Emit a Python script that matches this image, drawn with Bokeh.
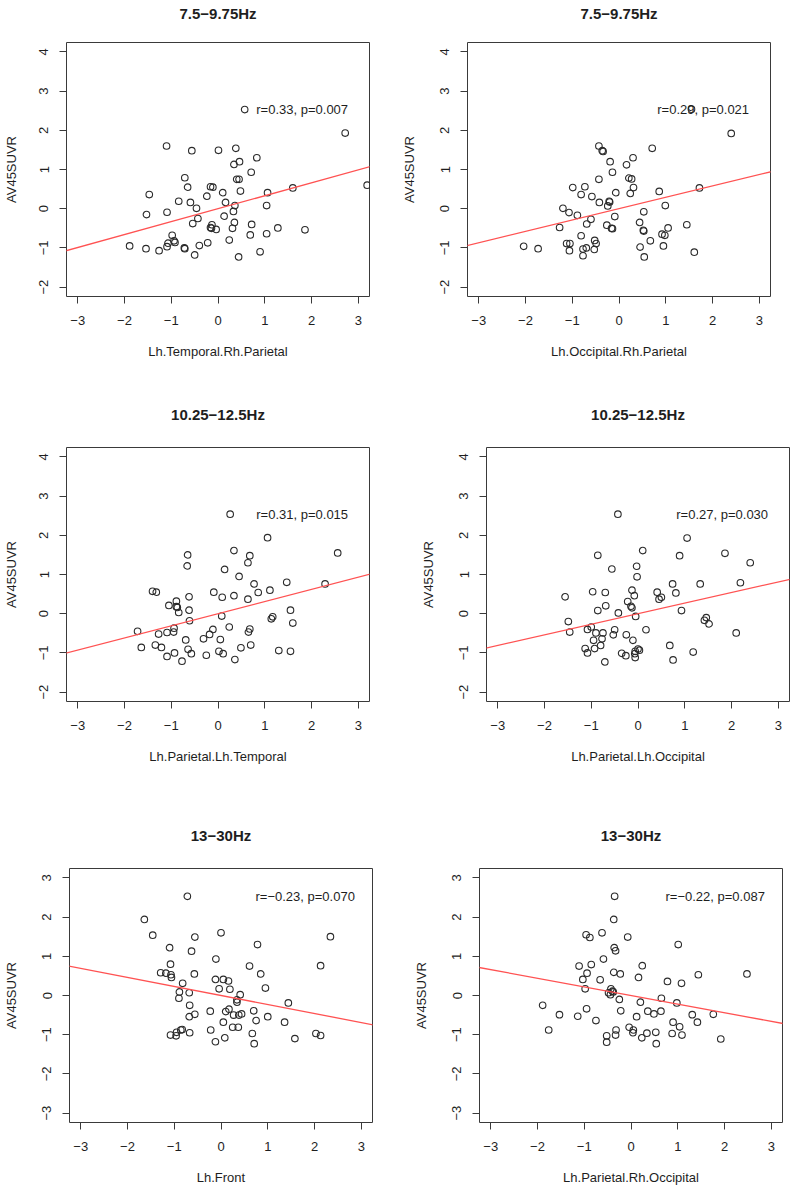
from bokeh.plotting import figure
from bokeh.layouts import column, row
from bokeh.models import Range1d, FixedTicker, Slope, Label, LinearAxis
from bokeh.embed import file_html
from bokeh.resources import INLINE

# ---------------- data ----------------
titles = ["7.5\u22129.75Hz", "7.5\u22129.75Hz", "10.25\u221212.5Hz",
          "10.25\u221212.5Hz", "13\u221230Hz", "13\u221230Hz"]
x_labels = ["Lh.Temporal.Rh.Parietal", "Lh.Occipital.Rh.Parietal",
            "Lh.Parietal.Lh.Temporal", "Lh.Parietal.Lh.Occipital",
            "Lh.Front", "Lh.Parietal.Rh.Occipital"]
y_label = "AV45SUVR"
r_values = [0.33, 0.29, 0.31, 0.27, -0.23, -0.22]
stat_texts = ["r=0.33, p=0.007", "r=0.29, p=0.021", "r=0.31, p=0.015",
              "r=0.27, p=0.030", "r=\u22120.23, p=0.070", "r=\u22120.22, p=0.087"]
x_ticks = [-3, -2, -1, 0, 1, 2, 3]
y_ticks_top = [-2, -1, 0, 1, 2, 3, 4]
y_ticks_bottom = [-3, -2, -1, 0, 1, 2, 3]

x1 = [0.57, 2.72, -1.10, -0.56, 0.01, 0.38, 0.83, 0.46, 0.34, 0.71, -0.71, 0.40, 0.45,
      -0.65, -0.16, -0.11, 1.60, 3.19, -1.47, 0.48, 0.10, 1.06, -0.24, -0.84, -0.59,
      0.16, 1.04, 0.36, -0.46, -1.53, -1.09, 0.33, 0.13, -0.43, -0.54, 0.35, 0.72,
      -0.13, -0.16, -0.14, -0.04, 0.31, 1.28, 1.86, 0.69, 1.04, -0.98, 0.24, -0.94,
      -1.07, -0.92, -0.22, -1.89, -1.09, -0.40, -1.54, -0.72, -0.71, -1.26, 0.90,
      -0.50, 0.44]
y1 = [2.53, 1.93, 1.60, 1.48, 1.49, 1.54, 1.30, 1.20, 1.13, 0.93, 0.79, 0.75, 0.75,
      0.55, 0.56, 0.55, 0.53, 0.60, 0.36, 0.45, 0.41, 0.41, 0.32, 0.19, 0.16,
      0.16, 0.08, 0.08, 0.01, -0.15, -0.09, -0.07, -0.19, -0.25, -0.38, -0.35, -0.40,
      -0.41, -0.48, -0.50, -0.53, -0.50, -0.49, -0.54, -0.67, -0.64, -0.68, -0.80, -0.82,
      -0.88, -0.86, -0.87, -0.95, -0.97, -0.94, -1.02, -1.00, -1.02, -1.07, -1.10,
      -1.18, -1.23]

x2 = [1.55, 2.40, -0.43, -0.36, -0.34, 0.71, 0.30, -0.19, 0.16, -0.14, 0.21, 0.27,
      -0.43, -0.99, -0.73, 0.31, 1.72, 0.86, -0.81, -0.58, -0.07, 0.24, -0.42, -0.21,
      -0.20, -0.24, 0.99, -1.20, -1.07, 0.53, -0.89, -0.09, -0.60, -0.69, -0.26, 0.44,
      1.45, -1.27, -0.16, -0.14, 0.52, 0.53, 1.05, 0.92, 0.98, -0.81, 0.67, -0.52,
      -1.12, -1.05, -0.49, -2.04, 0.95, 0.45, -1.73, -0.70, -0.77, -0.53, -1.06, 1.61,
      -0.77, 0.54]
y2 = [2.54, 1.92, 1.60, 1.48, 1.46, 1.54, 1.30, 1.20, 1.12, 0.93, 0.78, 0.76,
      0.75, 0.54, 0.56, 0.54, 0.53, 0.44, 0.36, 0.31, 0.41, 0.39, 0.16, 0.19,
      0.17, 0.07, 0.08, 0.01, -0.10, -0.08, -0.17, -0.20, -0.27, -0.39, -0.42, -0.35,
      -0.41, -0.48, -0.50, -0.51, -0.55, -0.57, -0.49, -0.65, -0.68, -0.69, -0.82, -0.81,
      -0.89, -0.89, -0.89, -0.96, -0.95, -0.98, -1.02, -1.00, -1.03, -1.04, -1.07, -1.11,
      -1.20, -1.23]

x3 = [0.26, 1.06, 2.56, 0.34, -0.65, 0.68, -0.66, 0.64, 0.14, 0.45, 0.77, 1.47, 2.29,
      -1.40, -1.32, -0.09, 0.86, 1.11, -0.62, 0.09, 0.34, 0.64, -1.05, -0.89, -0.89,
      -0.87, -0.84, -0.62, 1.55, 0.08, 1.14, 1.17, 1.60, -0.61, 0.24, -1.72, -0.94,
      -0.95, -1.09, -0.11, 0.68, 0.65, -1.27, -0.18, -0.69, -0.31, 0.05, -1.34, 0.70,
      -1.64, -1.21, -0.64, 0.49, 1.30, 1.55, -0.93, 0.02, -0.57, 0.11, -0.25, -1.09,
      0.36, -0.77]
y3 = [2.54, 1.94, 1.55, 1.61, 1.50, 1.48, 1.22, 1.30, 1.13, 0.95, 0.76, 0.80, 0.76,
      0.57, 0.55, 0.55, 0.54, 0.60, 0.43, 0.42, 0.46, 0.37, 0.21, 0.32, 0.18,
      0.16, 0.03, 0.09, 0.09, -0.06, -0.13, -0.08, -0.24, -0.18, -0.34, -0.45, -0.37,
      -0.47, -0.48, -0.40, -0.39, -0.47, -0.52, -0.53, -0.67, -0.64, -0.66, -0.80, -0.80,
      -0.86, -0.86, -0.91, -0.87, -0.94, -0.96, -1.00, -0.96, -1.02, -1.02, -1.06, -1.09,
      -1.17, -1.21]

x4 = [-0.43, 1.05, 0.10, -0.86, 0.89, 1.86, 2.40, -0.56, -0.03, -0.02, 0.74, 1.33, 2.19,
      -1.56, -0.97, -0.70, -0.13, -0.08, 0.41, 0.81, 0.45, 0.50, -0.22, -0.69, -0.15,
      -0.13, -0.86, -0.42, 0.93, -0.05, -1.49, 1.46, 1.42, 1.52, -1.00, -1.08, -1.46,
      -0.90, -0.75, -0.50, 0.17, 2.10, -0.53, -0.25, -0.77, -0.95, -0.11, -0.80, 0.68,
      -1.13, -0.93, 0.00, 0.03, -0.06, 1.18, -1.08, -0.35, -0.07, -0.26, -0.06, -0.71,
      0.75]
y4 = [2.54, 1.93, 1.61, 1.49, 1.48, 1.54, 1.30, 1.14, 1.21, 0.94, 0.76, 0.76, 0.79,
      0.43, 0.56, 0.54, 0.60, 0.46, 0.55, 0.53, 0.37, 0.42, 0.31, 0.20, 0.19,
      0.15, 0.08, 0.02, 0.08, -0.07, -0.20, -0.10, -0.17, -0.26, -0.34, -0.40, -0.47,
      -0.49, -0.49, -0.41, -0.41, -0.49, -0.54, -0.54, -0.64, -0.68, -0.68, -0.81, -0.81,
      -0.89, -0.89, -0.90, -0.93, -0.96, -0.98, -1.00, -1.01, -1.02, -1.07, -1.12, -1.23,
      -1.18]

x5 = [-0.72, -1.64, -1.46, -0.56, 0.00, 2.34, 0.78, -1.10, -0.63, -0.11, -1.08, 0.61,
      2.13, -1.29, -1.18, -1.07, -1.06, -0.57, 0.85, -0.12, 0.05, 0.16, -0.82, -0.04,
      0.19, 0.95, -0.89, -0.68, 0.41, -0.90, 0.34, 0.34, 1.44, -0.67, -0.23, 0.10, 0.17,
      0.70, -0.56, -0.68, 0.27, 0.38, 0.44, 1.00, 0.05, 0.75, 1.36, 0.25, 0.37, -0.22,
      -0.83, -0.86, -0.95, -0.67, 0.67, -1.08, -0.96, 2.03, 2.13, 0.08, 1.58, -0.12,
      0.71]
y5 = [2.53, 1.94, 1.54, 1.49, 1.60, 1.50, 1.30, 1.22, 1.13, 0.93, 0.80, 0.75,
      0.76, 0.58, 0.57, 0.53, 0.46, 0.55, 0.55, 0.41, 0.41, 0.37, 0.31, 0.17,
      0.16, 0.19, 0.09, 0.07, 0.02, -0.07, -0.11, -0.17, -0.19, -0.25, -0.40, -0.41, -0.35,
      -0.39, -0.48, -0.54, -0.50, -0.50, -0.47, -0.54, -0.68, -0.64, -0.68, -0.81, -0.81, -0.88,
      -0.87, -0.88, -0.94, -0.95, -0.97, -1.01, -1.03, -0.97, -1.02, -1.08, -1.10, -1.18,
      -1.23]

x6 = [-0.35, -0.37, -0.96, -0.88, -0.62, -0.07, 1.01, -0.36, -0.33, -0.59, -1.11, -0.85,
      0.24, -0.94, -0.37, -0.23, 1.44, 2.48, -1.03, -0.66, 0.16, 0.78, 1.08, -0.98,
      -0.43, -0.40, -0.48, -0.44, -0.38, -0.25, 0.65, 0.20, 0.98, -1.89, -0.95, -0.22,
      0.36, 0.49, 0.64, -1.53, -1.14, 0.12, 1.31, 1.76, -0.75, 0.90, 1.42, -1.76, -0.32,
      -0.04, 0.05, 0.04, 1.04, 0.53, 0.34, 0.88, -0.52, -0.33, 1.09, 0.23, 1.92, -0.52,
      0.54]
y6 = [2.53, 1.94, 1.55, 1.48, 1.60, 1.49, 1.30, 1.22, 1.14, 0.93, 0.75, 0.79,
      0.76, 0.57, 0.59, 0.55, 0.53, 0.55, 0.41, 0.40, 0.46, 0.36, 0.31, 0.17,
      0.17, 0.11, 0.07, 0.02, 0.09, -0.10, -0.07, -0.17, -0.19, -0.25, -0.34, -0.39,
      -0.40, -0.47, -0.40, -0.49, -0.53, -0.54, -0.49, -0.48, -0.64, -0.68, -0.68, -0.88, -0.88,
      -0.81, -0.88, -0.95, -0.80, -0.94, -0.96, -0.97, -1.03, -1.01, -1.01, -1.08, -1.11, -1.19,
      -1.23]

xs = [x1, x2, x3, x4, x5, x6]
ys = [y1, y2, y3, y4, y5, y6]

# ---------------- layout / style ----------------
FONT = "Liberation Sans"
TXT = "#1e1e1e"
LINE = "#3a3a3a"
FRAME_W, FRAME_H = 303, 254
PAD = 0.24           # R-style 4% axis expansion
# (left, right, top, bottom, y-label standoff, title standoff)
borders = [(64, 28, 41, 95, 18, 21),
           (70, 22, 42, 94, 21, 21),
           (64, 28, 57, 99, 18, 25),
           (89, 3, 53, 103, 21, 25),
           (68, 24, 68, 66, 21, 25),
           (83, 9, 68, 66, 21, 25)]


def make_panel(i):
    left, right, top, bottom, ylab_sd, title_sd = borders[i]
    bottom_row = i >= 4
    yt = y_ticks_bottom if bottom_row else y_ticks_top
    p = figure(frame_width=FRAME_W, frame_height=FRAME_H,
               x_range=Range1d(x_ticks[0] - PAD, x_ticks[-1] + PAD),
               y_range=Range1d(yt[0] - PAD, yt[-1] + PAD),
               output_backend="svg", toolbar_location=None,
               min_border_left=left, min_border_right=right,
               min_border_top=top, min_border_bottom=bottom)
    p.grid.visible = False
    p.outline_line_color = LINE
    p.outline_line_width = 1
    p.background_fill_color = "white"
    p.border_fill_color = "white"

    ov_x = {t: ("\u2212%d" % -t if t < 0 else "%d" % t) for t in x_ticks}
    ov_y = {t: ("\u2212%d" % -t if t < 0 else "%d" % t) for t in yt}

    p.xaxis.ticker = FixedTicker(ticks=x_ticks)
    p.xaxis.bounds = (x_ticks[0], x_ticks[-1])
    p.xaxis.major_label_overrides = ov_x
    p.xaxis.major_label_standoff = 12
    p.xaxis.axis_label = x_labels[i]
    p.xaxis.axis_label_standoff = 16

    p.yaxis.ticker = FixedTicker(ticks=yt)
    p.yaxis.bounds = (yt[0], yt[-1])
    p.yaxis.major_label_overrides = ov_y
    p.yaxis.major_label_orientation = "vertical"
    p.yaxis.major_label_standoff = 11
    p.yaxis.axis_label = y_label
    p.yaxis.axis_label_standoff = ylab_sd

    for ax in (p.xaxis[0], p.yaxis[0]):
        ax.major_tick_out = 7
        ax.major_tick_in = 0
        ax.minor_tick_line_color = None
        ax.axis_line_color = LINE
        ax.major_tick_line_color = LINE
        ax.major_label_text_font = FONT
        ax.major_label_text_font_size = "13px"
        ax.major_label_text_color = TXT
        ax.axis_label_text_font = FONT
        ax.axis_label_text_font_size = "13px"
        ax.axis_label_text_font_style = "normal"
        ax.axis_label_text_color = TXT

    # panel title: label of a bare axis above the box
    tax = LinearAxis(ticker=FixedTicker(ticks=[]), axis_label=titles[i],
                     axis_line_color=None, major_tick_line_color=None,
                     minor_tick_line_color=None, major_tick_out=0,
                     major_tick_in=0, major_label_standoff=0,
                     axis_label_standoff=title_sd,
                     axis_label_text_font=FONT, axis_label_text_font_size="15px",
                     axis_label_text_font_style="bold", axis_label_text_color=TXT)
    p.add_layout(tax, "above")

    p.add_layout(Slope(gradient=r_values[i], y_intercept=0,
                       line_color="#ff5252", line_width=1.3))
    p.scatter(xs[i], ys[i], marker="circle", size=6.6,
              fill_color=None, line_color="#2b2b2b", line_width=1.1)
    p.add_layout(Label(x=1.8, y=max(ys[i]), text=stat_texts[i],
                       text_align="center", text_baseline="middle",
                       text_font=FONT, text_font_size="13px",
                       text_color=TXT))
    return p


panels = [make_panel(i) for i in range(6)]
layout = column(row(panels[0], panels[1]),
                row(panels[2], panels[3]),
                row(panels[4], panels[5]))

open("out.html", "w").write(file_html(layout, INLINE))
